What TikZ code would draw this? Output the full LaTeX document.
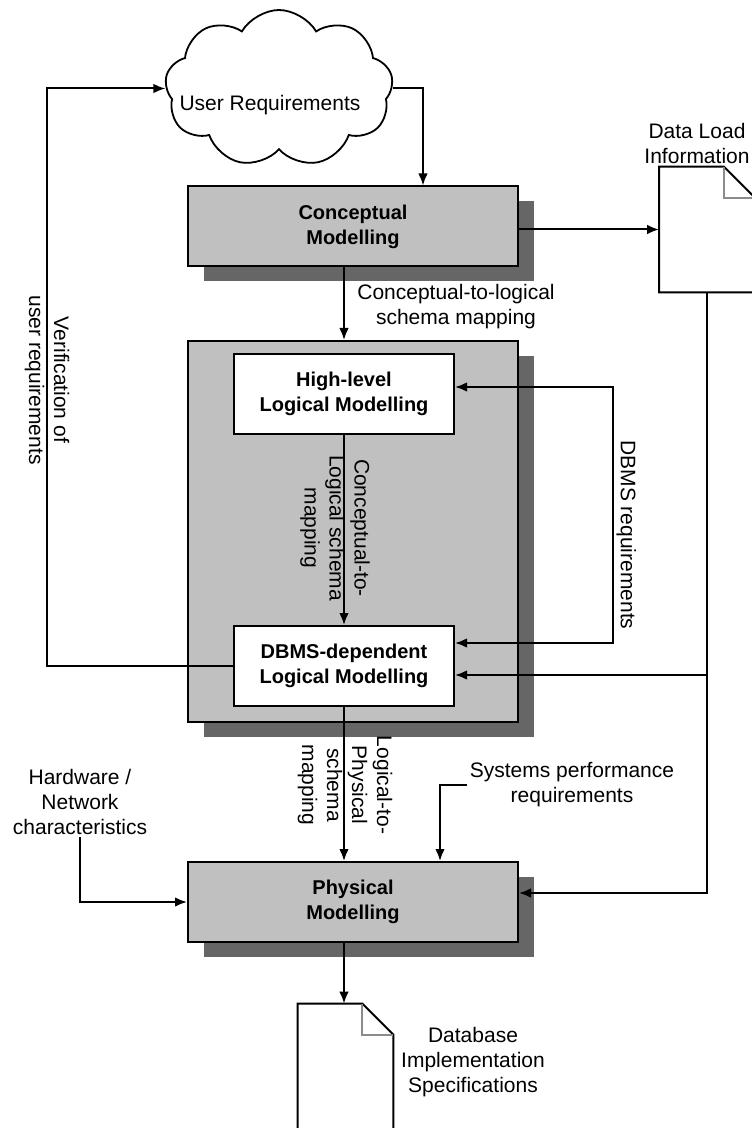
\documentclass[tikz,border=0pt]{standalone}
\usepackage{fontspec}
\setmainfont{Liberation Sans}
\usetikzlibrary{arrows.meta, positioning, shapes.symbols, shadows, calc}
\definecolor{boxgray}{HTML}{C0C0C0}
\definecolor{shadegray}{HTML}{666666}
\definecolor{foldgray}{HTML}{8C8C8C}

\begin{document}
\begin{tikzpicture}[x=0.5pt, y=-0.5pt,
    font=\fontsize{10.5}{12.5}\selectfont,
    box/.style={rectangle, draw, line width=1pt, fill=boxgray, inner sep=0pt, align=center,
        minimum width=165pt, minimum height=40pt, font=\bfseries\fontsize{10}{12.5}\selectfont,
        drop shadow={shadow xshift=8pt, shadow yshift=-7.5pt, fill=shadegray, opacity=1}},
    inbox/.style={rectangle, draw, line width=1pt, fill=white, inner sep=0pt, align=center,
        minimum width=110pt, minimum height=40pt, font=\bfseries\fontsize{10}{12.5}\selectfont},
    reqcloud/.style={cloud, draw, cloud puffs=9, cloud puff arc=120, aspect=1.45,
        minimum width=114pt, minimum height=78.5pt, inner sep=0pt, line width=0.9pt},
    doc/.style={rectangle, inner sep=0pt, minimum width=47.5pt},
    docline/.style={line width=1pt},
    txt/.style={align=center, inner sep=1pt},
    vtxt/.style={align=center, rotate=-90, inner sep=1.5pt},
    arrow/.style={-{Latex[length=6pt, width=4.8pt]}, line width=1pt},
    twoway/.style={{Latex[length=6pt, width=4.8pt]}-{Latex[length=6pt, width=4.8pt]}, line width=1pt}]
    \useasboundingbox (0,0) rectangle (751,1128);

    % Nodes
    \node[reqcloud] (ureq) at (279,88.5) {};
    \node[txt] (ureqtext) at (270,105) {User Requirements};
    \node[box] (concept) at (353,226.5) {Conceptual\\Modelling};
    \node[box, minimum height=190.5pt] (logbox) at (353,531.5) {};
    \node[inbox] (hlm) at (344,394) {High-level\\Logical Modelling};
    \node[inbox] (dbms) at (344,666) {DBMS-dependent\\Logical Modelling};
    \node[box] (phys) at (353,902) {Physical\\Modelling};
    \node[doc, minimum height=62.5pt] (dload) at (707,229.5) {};
    \node[doc, minimum height=65pt] (dbspec) at (345.5,1069) {};

    % Documents
    \draw[docline, fill=white] (dload.north west) -- ([xshift=-15.5pt]dload.north east)
        -- ([yshift=-15.5pt]dload.north east) -- (dload.south east) -- (dload.south west) -- cycle;
    \draw[docline, foldgray] ([xshift=-15.5pt]dload.north east) |- ([yshift=-15.5pt]dload.north east);
    \draw[docline, fill=white] (dbspec.north west) -- ([xshift=-15.5pt]dbspec.north east)
        -- ([yshift=-15.5pt]dbspec.north east) -- (dbspec.south east) -- (dbspec.south west) -- cycle;
    \draw[docline, foldgray] ([xshift=-15.5pt]dbspec.north east) |- ([yshift=-15.5pt]dbspec.north east);

    % Labels
    \node[txt] (dloadlbl) at (697,143) {Data Load\\Information};
    \node[txt] (c2l) at (456,307) {Conceptual-to-logical\\schema mapping};
    \node[vtxt] (c2lv) at (335,528) {Conceptual-to-\\Logical schema\\mapping};
    \node[vtxt, anchor=south] (dbmsreq) at (613,535) {DBMS requirements};
    \node[vtxt] (verif) at (47,380) {Verification of\\user requirements};
    \node[vtxt] (l2p) at (345,785) {Logical-to-\\Physical\\schema\\mapping};
    \node[txt] (hwnet) at (80,802) {Hardware /\\Network\\characteristics};
    \node[txt] (sysperf) at (572,785) {Systems performance\\requirements};
    \node[txt] (dbspeclbl) at (473,1062) {Database\\Implementation\\Specifications};

    % Arrows
    \coordinate (dbin) at ([yshift=-4.5pt]dbms.east);
    \draw[arrow] (ureq.east) -| ($(concept.north)+(70,0)$);
    \draw[arrow] (dbms.west) -| (verif.center) |- (ureq.west);
    \draw[arrow] (concept.east |- dload.west) -- (dload.west);
    \draw[arrow] (concept.south -| hlm.north) -- (logbox.north -| hlm.north);
    \draw[arrow] (hlm.south) -- (dbms.north);
    \draw[twoway] ([yshift=3.5pt]hlm.east) -| (dbmsreq.south) |- ([yshift=11.5pt]dbms.east);
    \draw[arrow] (dload.south) |- ([yshift=4.5pt]phys.east);
    \draw[arrow] (dbin -| dload.south) -- (dbin);
    \draw[arrow] (dbms.south) -- (phys.north -| dbms.south);
    \draw[arrow] (hwnet.south) |- (phys.west);
    \draw[arrow] (sysperf.west) -| ($(phys.north)+(87,0)$);
    \draw[arrow] (phys.south -| dbms.south) -- (dbspec.north -| dbms.south);

\end{tikzpicture}
\end{document}
